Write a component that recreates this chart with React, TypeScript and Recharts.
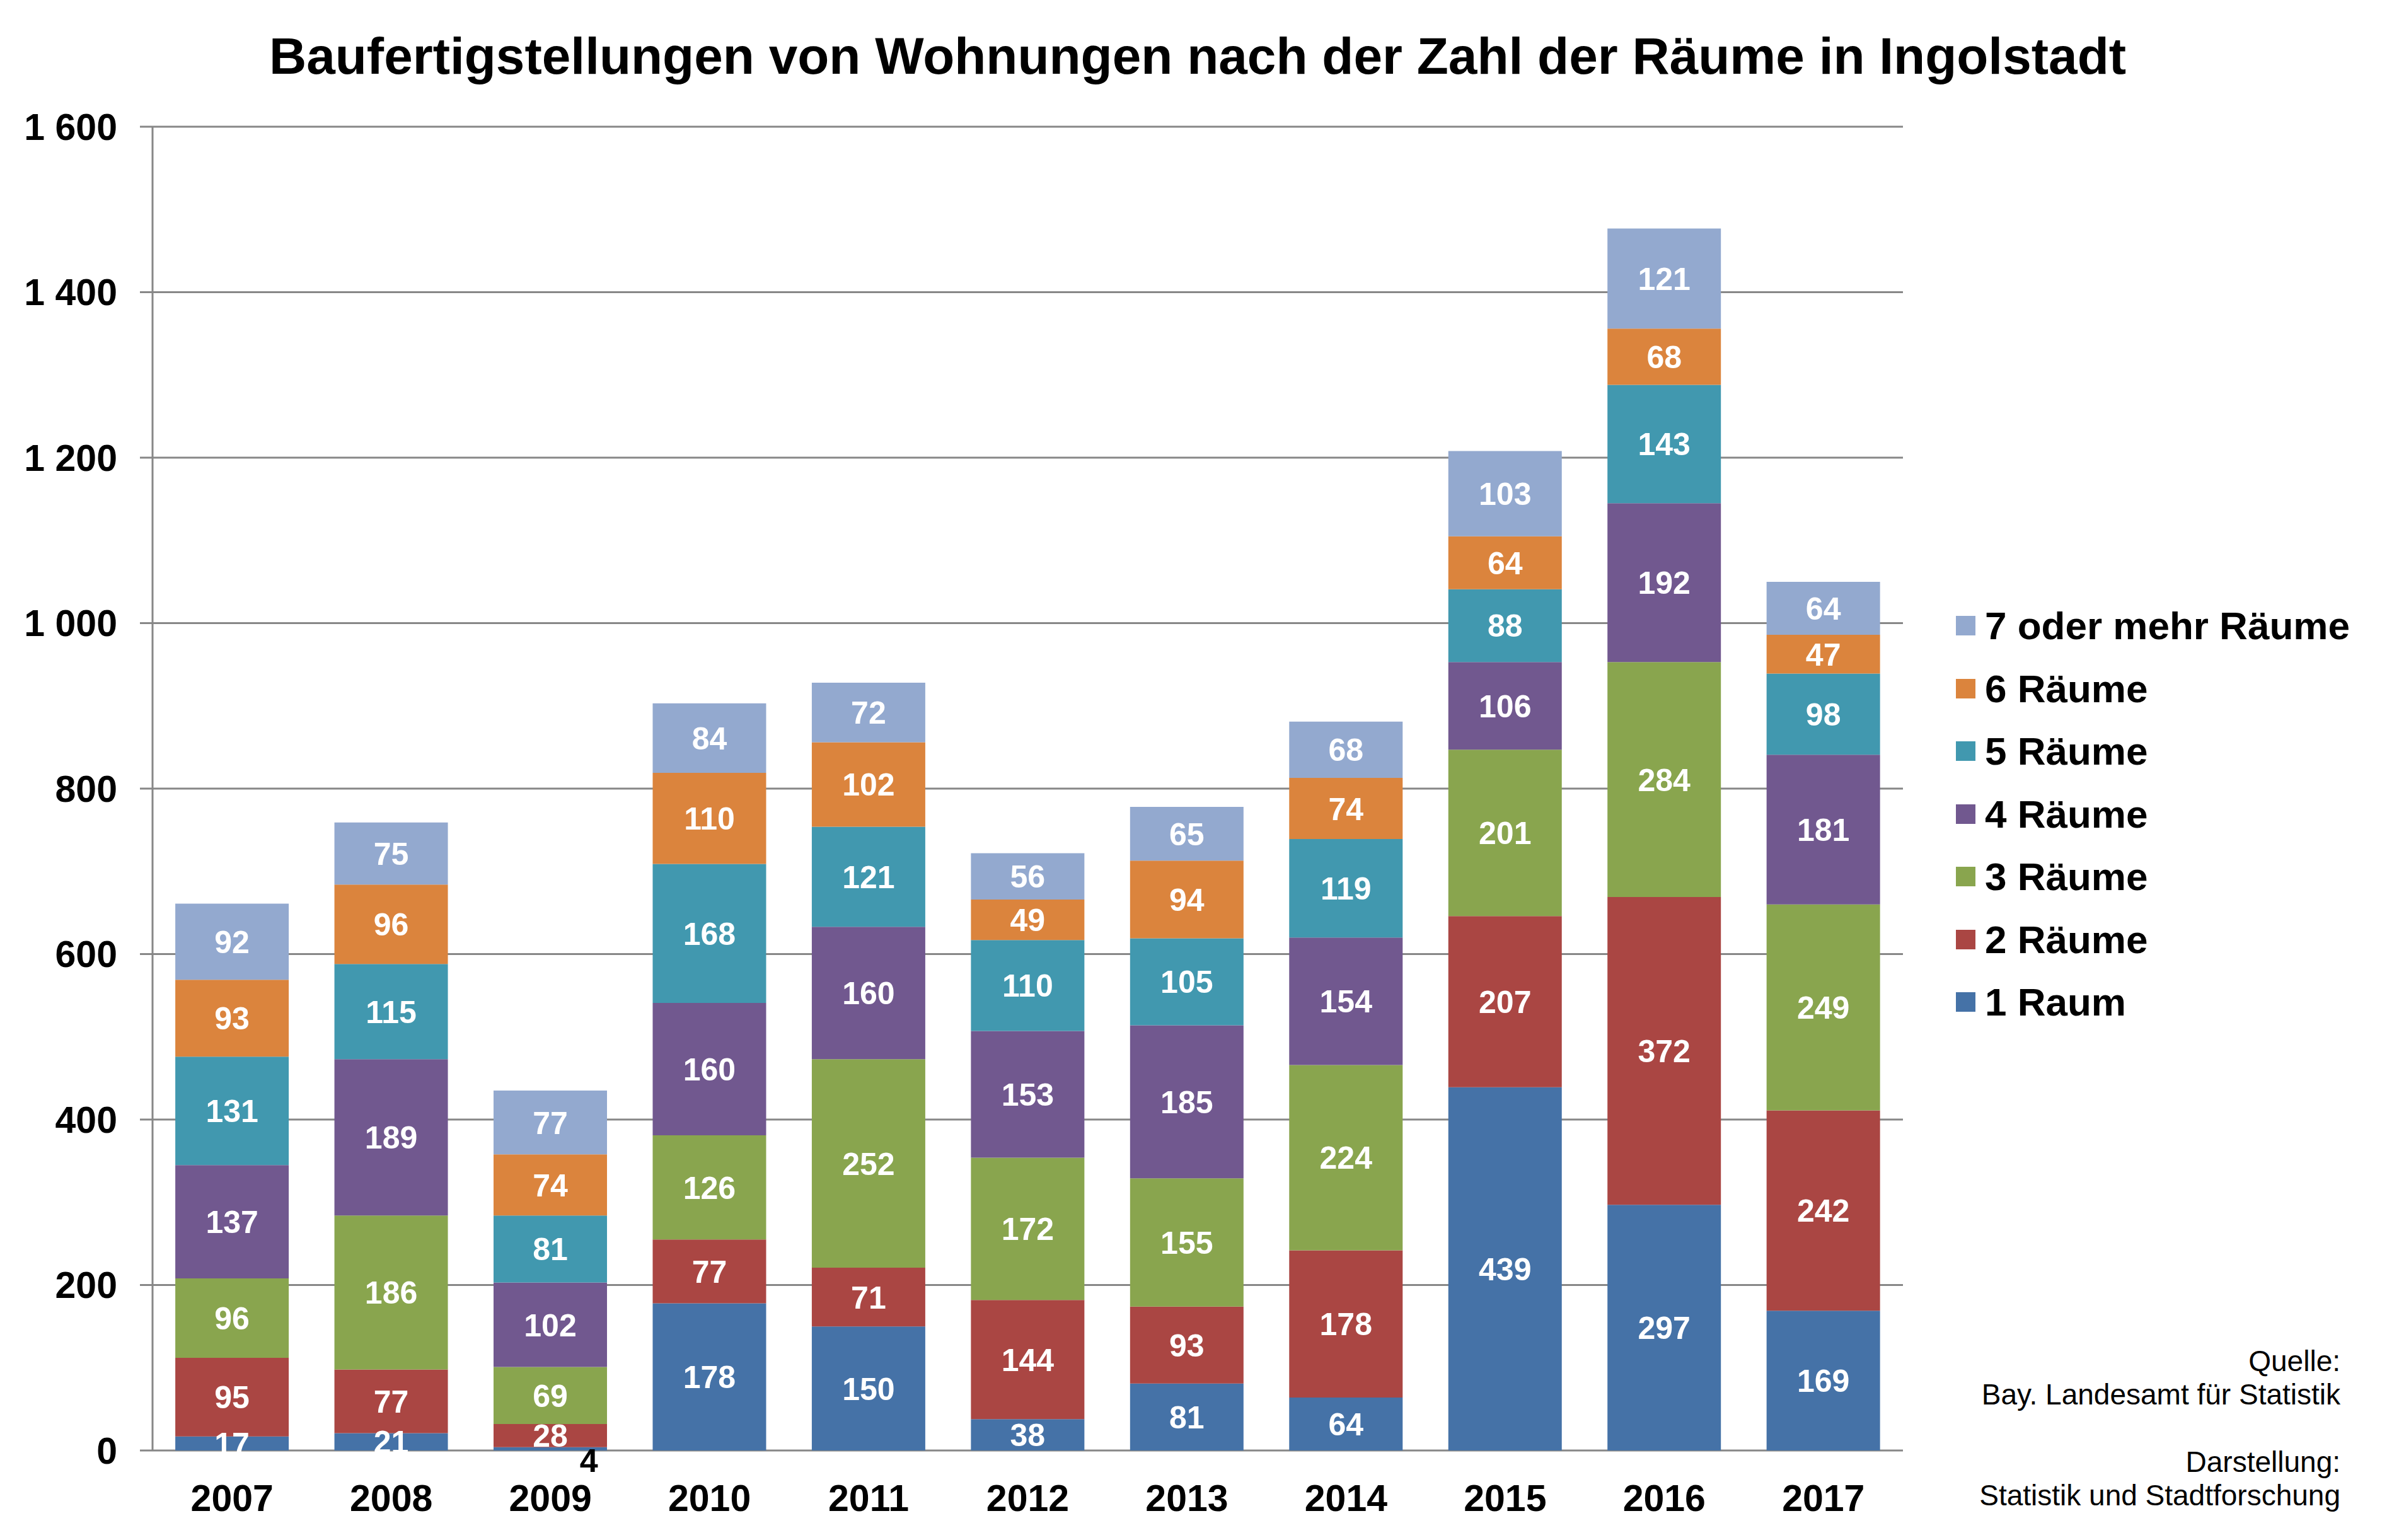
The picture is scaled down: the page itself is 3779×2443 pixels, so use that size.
import { Bar, BarChart, CartesianGrid, LabelList, XAxis, YAxis } from "recharts";

const years = ["2007", "2008", "2009", "2010", "2011", "2012", "2013", "2014", "2015", "2016", "2017"];

const raum1 = [17, 21, 4, 178, 150, 38, 81, 64, 439, 297, 169];
const raeume2 = [95, 77, 28, 77, 71, 144, 93, 178, 207, 372, 242];
const raeume3 = [96, 186, 69, 126, 252, 172, 155, 224, 201, 284, 249];
const raeume4 = [137, 189, 102, 160, 160, 153, 185, 154, 106, 192, 181];
const raeume5 = [131, 115, 81, 168, 121, 110, 105, 119, 88, 143, 98];
const raeume6 = [93, 96, 74, 110, 102, 49, 94, 74, 64, 68, 47];
const raeume7 = [92, 75, 77, 84, 72, 56, 65, 68, 103, 121, 64];

const yTicks = [0, 200, 400, 600, 800, 1000, 1200, 1400, 1600];

const series = [
  { key: "r1", name: "1 Raum", values: raum1, color: "#4572A7" },
  { key: "r2", name: "2 Räume", values: raeume2, color: "#AA4643" },
  { key: "r3", name: "3 Räume", values: raeume3, color: "#89A54E" },
  { key: "r4", name: "4 Räume", values: raeume4, color: "#71588F" },
  { key: "r5", name: "5 Räume", values: raeume5, color: "#4198AF" },
  { key: "r6", name: "6 Räume", values: raeume6, color: "#DB843D" },
  { key: "r7", name: "7 oder mehr Räume", values: raeume7, color: "#93A9CF" },
];

const data = years.map((year, i) => {
  const row: Record<string, string | number> = { year };
  series.forEach((s) => {
    row[s.key] = s.values[i];
  });
  return row;
});

// boundaries between the year bands, for the Excel-style ticks
const edgeTicks = years.map((_, i) => i).concat(years.length);

const FONT = '"Liberation Sans", Arial, sans-serif';
const GRAY = "#878787";

const formatThousands = (v: number) =>
  v >= 1000 ? `${Math.floor(v / 1000)} ${String(v % 1000).padStart(3, "0")}` : String(v);

const renderLabel = (props: any) => {
  const { x, y, width, height, value } = props;
  if (value < 10) {
    // too small for the bar: put it just under the axis, like the original
    return (
      <text
        x={x + width * 0.84}
        y={y + height + 34}
        textAnchor="middle"
        fill="#000"
        fontFamily={FONT}
        fontWeight="bold"
        fontSize={52}
      >
        {value}
      </text>
    );
  }
  return (
    <text
      x={x + width / 2}
      y={y + height / 2}
      dy="0.36em"
      textAnchor="middle"
      fill="#fff"
      fontFamily={FONT}
      fontWeight="bold"
      fontSize={50}
    >
      {value}
    </text>
  );
};

const App = () => {
  return (
    <div
      style={{
        position: "absolute",
        left: 0,
        top: 0,
        width: 3779,
        height: 2443,
        background: "#fff",
        fontFamily: FONT,
      }}
    >
      <BarChart
        width={3779}
        height={2443}
        data={data}
        margin={{ top: 201, right: 760, bottom: 42, left: 42 }}
        barCategoryGap="14.3%"
      >
        <CartesianGrid vertical={false} stroke={GRAY} strokeWidth={3} />
        <XAxis
          xAxisId="edge"
          type="number"
          domain={[0, years.length]}
          ticks={edgeTicks}
          allowDataOverflow
          interval={0}
          height={0}
          tick={false}
          tickSize={19}
          tickLine={{ stroke: GRAY, strokeWidth: 3 }}
          axisLine={{ stroke: GRAY, strokeWidth: 3 }}
        />
        <XAxis
          xAxisId="cat"
          dataKey="year"
          height={100}
          interval={0}
          axisLine={false}
          tickLine={false}
          tickSize={0}
          tickMargin={54}
          tick={{ fill: "#000", fontSize: 59, fontWeight: "bold", fontFamily: FONT }}
        />
        <YAxis
          width={200}
          domain={[0, 1600]}
          ticks={yTicks}
          interval={0}
          tickSize={20}
          tickMargin={36}
          tickFormatter={formatThousands}
          tickLine={{ stroke: GRAY, strokeWidth: 3 }}
          axisLine={{ stroke: GRAY, strokeWidth: 3 }}
          tick={{ fill: "#000", fontSize: 59, fontWeight: "bold", fontFamily: FONT }}
        />
        {series.map((s) => (
          <Bar
            key={s.key}
            xAxisId="cat"
            dataKey={s.key}
            name={s.name}
            stackId="a"
            fill={s.color}
            isAnimationActive={false}
          >
            <LabelList dataKey={s.key} content={renderLabel} />
          </Bar>
        ))}
      </BarChart>

      <svg
        width={3779}
        height={2443}
        style={{ position: "absolute", left: 0, top: 0, pointerEvents: "none" }}
      >
        <text x={1900} y={117} textAnchor="middle" fontFamily={FONT} fontWeight="bold" fontSize={82}>
          Baufertigstellungen von Wohnungen nach der Zahl der Räume in Ingolstadt
        </text>
        <g fontFamily={FONT} fontSize={46} textAnchor="end" fill="#000">
          <text x={3713} y={2175}>Quelle:</text>
          <text x={3713} y={2228}>Bay. Landesamt für Statistik</text>
          <text x={3713} y={2335}>Darstellung:</text>
          <text x={3713} y={2388}>Statistik und Stadtforschung</text>
        </g>
      </svg>

      <div style={{ position: "absolute", left: 3103, top: 943 }}>
        {series
          .slice()
          .reverse()
          .map((s) => (
            <div
              key={s.key}
              style={{ display: "flex", alignItems: "center", height: 99.5, whiteSpace: "nowrap" }}
            >
              <span style={{ width: 31, height: 31, background: s.color, marginRight: 15 }} />
              <span style={{ fontSize: 62, fontWeight: "bold", color: "#000" }}>{s.name}</span>
            </div>
          ))}
      </div>
    </div>
  );
};

export default App;
